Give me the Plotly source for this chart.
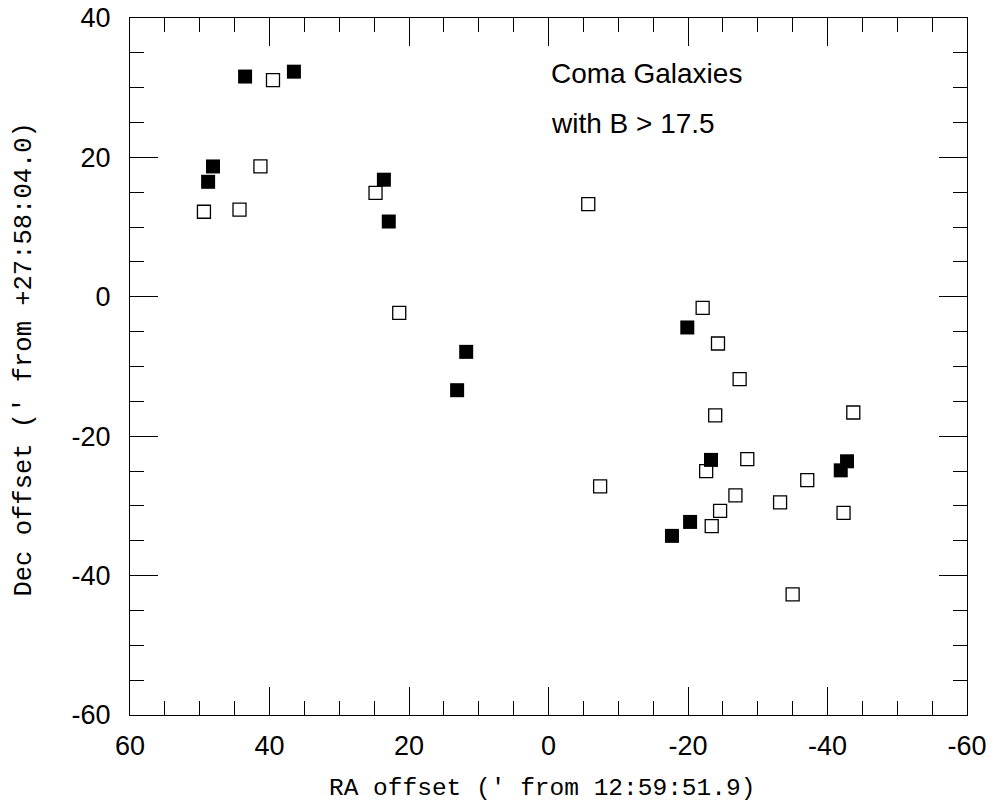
import plotly.graph_objects as go

# B > 17.5 Coma galaxies, RA/Dec offsets in arcmin
filled_ra = [43.5, 36.5, 48.1, 48.8, 23.6, 22.9, 11.8, 13.1, -19.9, -23.3, -42.8, -41.9, -20.3, -17.7]
filled_dec = [31.6, 32.3, 18.7, 16.5, 16.8, 10.8, -7.9, -13.4, -4.4, -23.4, -23.6, -24.9, -32.3, -34.3]

open_ra = [39.5, 41.3, 49.4, 44.3, 24.8, 21.4, -5.7, -7.4, -22.1, -24.3, -27.4, -23.9, -43.7,
           -22.6, -28.5, -37.1, -26.8, -33.2, -24.6, -23.4, -42.3, -35.0]
open_dec = [31.1, 18.7, 12.2, 12.5, 14.9, -2.3, 13.3, -27.2, -1.6, -6.7, -11.8, -17.0, -16.6,
            -25.0, -23.3, -26.3, -28.5, -29.5, -30.7, -32.9, -31.0, -42.7]

x_ticks = [60, 40, 20, 0, -20, -40, -60]
y_ticks = [40, 20, 0, -20, -40, -60]

x_title = "RA offset (' from 12:59:51.9)"
y_title = "Dec offset (' from +27:58:04.0)"
label_lines = ["Coma Galaxies", "with B > 17.5"]

fig = go.Figure()
fig.add_trace(go.Scatter(x=open_ra, y=open_dec, mode="markers",
                         marker=dict(symbol="square-open", size=13, color="black",
                                     line=dict(width=1.3, color="black")),
                         showlegend=False))
fig.add_trace(go.Scatter(x=filled_ra, y=filled_dec, mode="markers",
                         marker=dict(symbol="square", size=14, color="black",
                                     line=dict(width=0)),
                         showlegend=False))

tick_font = dict(family="Liberation Sans, Arial, sans-serif", size=27, color="black")
x_title_font = dict(family="Liberation Mono, DejaVu Sans Mono, monospace", size=24.5, color="black")
y_title_font = dict(family="Liberation Mono, DejaVu Sans Mono, monospace", size=25.5, color="black")

axis_common = dict(
    showline=True, linecolor="black", linewidth=1, mirror="allticks",
    ticks="inside", ticklen=28, tickwidth=1, tickcolor="black",
    showgrid=False, zeroline=False, tickfont=tick_font,
    minor=dict(ticks="inside", ticklen=14, tickwidth=1, tickcolor="black",
               dtick=5, showgrid=False),
)

fig.update_xaxes(range=[60, -60], tickmode="array", tickvals=x_ticks,
                 ticktext=[str(v) for v in x_ticks],
                 ticklabelstandoff=7, **axis_common)
fig.update_yaxes(range=[-60, 40], tickmode="array", tickvals=y_ticks,
                 ticktext=[str(v) for v in y_ticks],
                 ticklabelstandoff=13, **axis_common)

# axis titles
fig.add_annotation(x=0.4928, y=-0.106, xref="paper", yref="paper", text=x_title,
                   showarrow=False, xanchor="center", yanchor="middle", font=x_title_font)
fig.add_annotation(x=-0.1255, y=0.51, xref="paper", yref="paper", text=y_title,
                   showarrow=False, xanchor="center", yanchor="middle", textangle=-90,
                   font=y_title_font)

label_font = dict(family="Liberation Sans, Arial, sans-serif", size=28, color="black")
fig.add_annotation(x=0, y=32.0, xref="x", yref="y", text=label_lines[0], showarrow=False,
                   xanchor="left", yanchor="middle", font=label_font)
fig.add_annotation(x=0, y=24.8, xref="x", yref="y", text=label_lines[1], showarrow=False,
                   xanchor="left", yanchor="middle", font=label_font)

fig.update_layout(width=993, height=808,
                  margin=dict(l=130, r=26, t=18, b=93, autoexpand=False),
                  paper_bgcolor="white", plot_bgcolor="white")

fig.write_html("out.html", config={"displayModeBar": False},
               post_script="document.body.style.margin='0';")
